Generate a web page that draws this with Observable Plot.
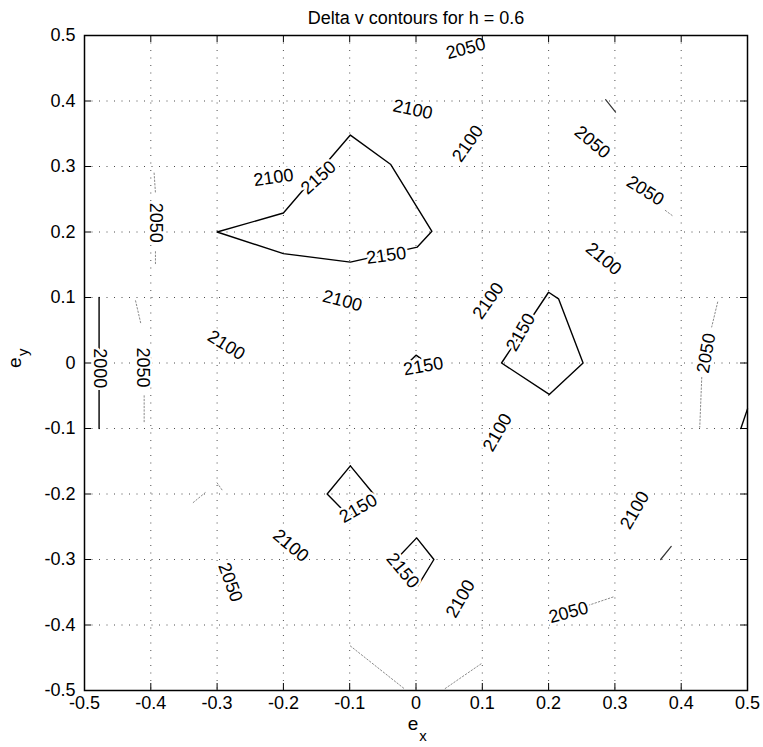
<!DOCTYPE html>
<html>
<head>
<meta charset="utf-8">
<script src="https://cdn.jsdelivr.net/npm/d3@7"></script>
<script src="https://cdn.jsdelivr.net/npm/@observablehq/plot@0.6"></script>
<style>
  body { margin: 0; background: #fff; }
  #chart svg { display: block; }
</style>
</head>
<body>
<div id="chart"></div>
<script>
// Contour map of delta-v over eccentricity components (e_x, e_y), h = 0.6
const title = "Delta v contours for h = 0.6";

const xTicks = [-0.5, -0.4, -0.3, -0.2, -0.1, 0, 0.1, 0.2, 0.3, 0.4, 0.5];
const xTickLabels = ["-0.5", "-0.4", "-0.3", "-0.2", "-0.1", "0", "0.1", "0.2", "0.3", "0.4", "0.5"];
const yTicks = [-0.5, -0.4, -0.3, -0.2, -0.1, 0, 0.1, 0.2, 0.3, 0.4, 0.5];
const yTickLabels = ["-0.5", "-0.4", "-0.3", "-0.2", "-0.1", "0", "0.1", "0.2", "0.3", "0.4", "0.5"];

// Level 2150 contours (dark)
const bigLoop2150 = [[-0.3, 0.2], [-0.2, 0.229], [-0.099, 0.348], [-0.038, 0.303], [0.024, 0.201], [0.002, 0.177], [-0.099, 0.154], [-0.2, 0.167], [-0.3, 0.2]];
const rightLoop2150 = [[0.2, 0.108], [0.215, 0.098], [0.252, 0.0], [0.201, -0.048], [0.129, 0.0], [0.2, 0.108]];
const upperSmallLoop2150 = [[-0.099, -0.157], [-0.064, -0.2], [-0.1, -0.235], [-0.134, -0.2], [-0.099, -0.157]];
const lowerSmallLoop2150 = [[0.001, -0.267], [0.027, -0.3], [0.003, -0.34], [-0.03, -0.3], [0.001, -0.267]];
const centerArc2150 = [[-0.012, 0.0], [0.0, 0.012], [0.014, 0.002]];

// Level 2000 contours (dark)
const leftLine2000 = [[-0.478, 0.1], [-0.478, -0.1]];
const cornerLine2000 = [[0.49, -0.1], [0.5, -0.07]];

// Level 2050 contours (pale, only partly visible)
const pale2050 = [
  [[0.376, 0.233], [0.388, 0.224]],
  [[0.455, 0.093], [0.446, 0.055]],
  [[0.431, -0.022], [0.428, -0.098]],
  [[-0.099, -0.432], [-0.018, -0.497]],
  [[0.044, -0.497], [0.1, -0.458]],
  [[0.26, -0.37], [0.298, -0.357]],
  [[-0.336, -0.213], [-0.318, -0.198]],
  [[-0.3, -0.183], [-0.291, -0.196]],
  [[-0.423, 0.095], [-0.415, 0.06]],
  [[-0.41, -0.05], [-0.41, -0.09]],
  [[-0.395, 0.29], [-0.393, 0.26]],
  [[-0.393, 0.17], [-0.393, 0.15]]
];
const darker2050 = [
  [[0.286, 0.402], [0.301, 0.383]],
  [[0.369, -0.3], [0.385, -0.28]]
];

// Inline contour labels: level, position, rotation
const labelLevels = [2050, 2100, 2100, 2050, 2050, 2100, 2150, 2050, 2150, 2100, 2100, 2000, 2050, 2150, 2100, 2150, 2100, 2100, 2050, 2150, 2150, 2100, 2050, 2100, 2050, 2100];
const labelX = [0.075, -0.005, 0.078, 0.266, 0.346, -0.215, -0.147, -0.393, -0.045, -0.111, -0.286, -0.477, -0.412, 0.158, 0.109, 0.011, 0.283, 0.123, 0.438, -0.087, -0.020, -0.189, -0.280, 0.330, 0.230, 0.067];
const labelY = [0.480, 0.387, 0.335, 0.337, 0.263, 0.283, 0.283, 0.214, 0.164, 0.095, 0.027, -0.008, -0.007, 0.047, 0.095, -0.005, 0.159, -0.106, 0.015, -0.222, -0.317, -0.279, -0.335, -0.225, -0.381, -0.360];
const labelAngle = [-15, 12, -55, 40, 32, -8, -42, 90, -8, 15, 32, 90, 90, -60, -55, -10, 40, -60, -80, -30, 50, 40, 70, -60, -15, -60];

const W = 763, H = 747;
const mL = 84, mR = 16, mT = 35, mB = 57;
const innerW = W - mL - mR, innerH = H - mT - mB;
const tickLen = 7;
const font = "'Liberation Sans', Arial, Helvetica, sans-serif";

const toRows = (pieces) => pieces.flatMap((pts, id) => pts.map(([x, y]) => ({x, y, id})));
const darkRows = toRows([bigLoop2150, rightLoop2150, upperSmallLoop2150, lowerSmallLoop2150, centerArc2150, leftLine2000, cornerLine2000]);
const paleRows = toRows(pale2050);
const darkerRows = toRows(darker2050);
const labels = labelLevels.map((v, i) => ({text: String(v), x: labelX[i], y: labelY[i], r: labelAngle[i]}));

const lookup = (ticks, names) => d => names[ticks.findIndex(t => Math.abs(t - d) < 1e-9)];

const chart = Plot.plot({
  width: W,
  height: H,
  marginLeft: mL, marginRight: mR, marginTop: mT, marginBottom: mB,
  x: {domain: [-0.5, 0.5], label: null},
  y: {domain: [-0.5, 0.5], label: null},
  style: {fontFamily: font, fontSize: "18px", background: "#fff", color: "#000"},
  marks: [
    // dotted grid
    Plot.ruleX(xTicks.slice(1, -1), {stroke: "#000", strokeOpacity: 0.7, strokeDasharray: "1,6.5"}),
    Plot.ruleY(yTicks.slice(1, -1), {stroke: "#000", strokeOpacity: 0.7, strokeDasharray: "1,6.5"}),
    // contour lines
    Plot.line(paleRows, {x: "x", y: "y", z: "id", stroke: "#8a8a8a", strokeWidth: 1, strokeDasharray: "1.5,2"}),
    Plot.line(darkerRows, {x: "x", y: "y", z: "id", stroke: "#333", strokeWidth: 1.2}),
    Plot.line(darkRows, {x: "x", y: "y", z: "id", stroke: "#000", strokeWidth: 1.4}),
    // inline labels with a white knockout
    Plot.text(labels, {x: "x", y: "y", text: "text", rotate: "r", fontSize: 18, fill: "#000", stroke: "#fff", strokeWidth: 5}),
    // inward ticks on all four sides
    Plot.tickX(xTicks, {x: d => d, insetTop: innerH - tickLen, stroke: "#000"}),
    Plot.tickX(xTicks, {x: d => d, insetBottom: innerH - tickLen, stroke: "#000"}),
    Plot.tickY(yTicks, {y: d => d, insetRight: innerW - tickLen, stroke: "#000"}),
    Plot.tickY(yTicks, {y: d => d, insetLeft: innerW - tickLen, stroke: "#000"}),
    Plot.frame({stroke: "#000", strokeWidth: 1.5}),
    // tick labels
    Plot.axisX(xTicks, {anchor: "bottom", tickSize: 0, tickPadding: 6, tickFormat: lookup(xTicks, xTickLabels), fontSize: 18, label: null}),
    Plot.axisY(yTicks, {anchor: "left", tickSize: 0, tickPadding: 9, tickFormat: lookup(yTicks, yTickLabels), fontSize: 18, label: null}),
    // axis titles with subscripts
    Plot.text(["e"], {frameAnchor: "bottom", dx: -3, dy: 39, fontSize: 19}),
    Plot.text(["x"], {frameAnchor: "bottom", dx: 7, dy: 50, fontSize: 15}),
    Plot.text(["e"], {frameAnchor: "left", dx: -70, dy: 5, rotate: -90, fontSize: 19}),
    Plot.text(["y"], {frameAnchor: "left", dx: -61, dy: -7, rotate: -90, fontSize: 15}),
    // title
    Plot.text([title], {frameAnchor: "top", dy: -24, fontSize: 18})
  ]
});

document.getElementById("chart").appendChild(chart);
</script>
</body>
</html>
